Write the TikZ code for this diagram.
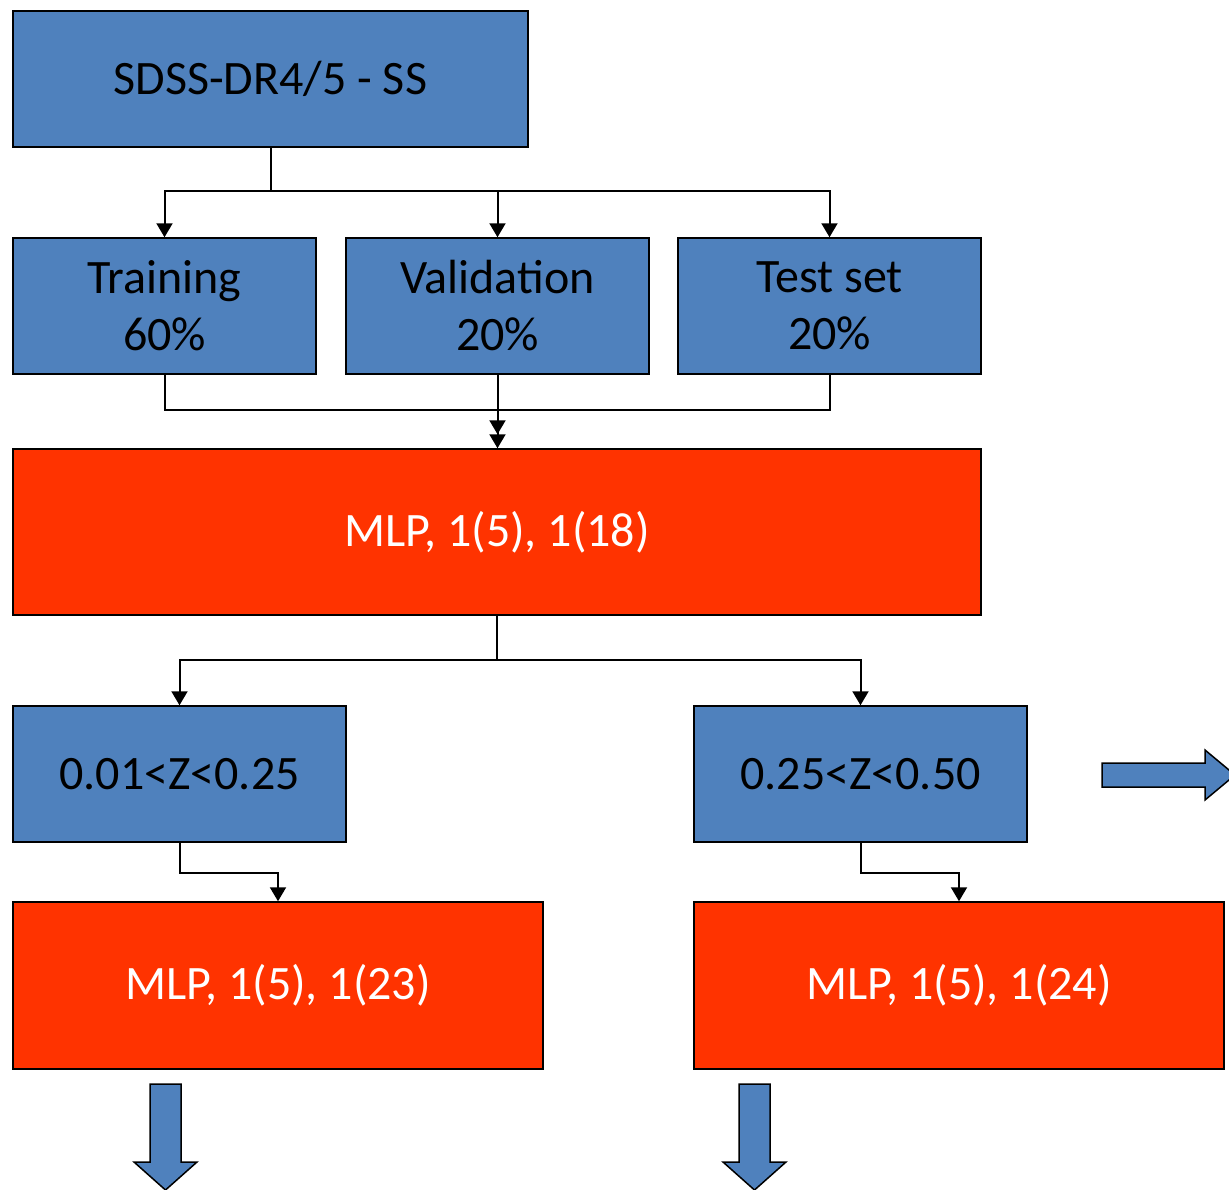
\documentclass[tikz,border=0pt]{standalone}
\usepackage{fontspec}
\setmainfont{Carlito}
\usetikzlibrary{arrows.meta}
\definecolor{boxblue}{HTML}{4F81BD}
\definecolor{boxred}{HTML}{FF3300}
\tikzset{
  bluebox/.style={draw=black, line width=1.5pt, fill=boxblue, text=black, font=\fontsize{48}{57}\selectfont, align=center, inner sep=0pt},
  redbox/.style={draw=black, line width=1.5pt, fill=boxred, text=white, font=\fontsize{48}{57}\selectfont, align=center, inner sep=0pt},
  conn/.style={line width=2pt, -{Triangle[length=14pt,width=16pt]}},
  plainconn/.style={line width=2pt},
  blockarrow/.style={draw=black, line width=1.5pt, fill=boxblue},
}
\begin{document}
\begin{tikzpicture}[x=1pt,y=-1pt]
\useasboundingbox (0,0) rectangle (1229,1189);
\clip (0,0) rectangle (1229,1189);
\node[bluebox, minimum width=515pt, minimum height=136pt] (sdss) at (270.5,79) {SDSS-DR4/5 - SS};
\node[bluebox, minimum width=303pt, minimum height=136pt] (train) at (164.5,306) {Training\\60\%};
\node[bluebox, minimum width=303pt, minimum height=136pt] (valid) at (497.5,306) {Validation\\20\%};
\node[bluebox, minimum width=303pt, minimum height=136pt] (test) at (829.5,306) {Test set\\20\%};
\node[redbox, minimum width=968pt, minimum height=166pt] (mlp) at (497,532) {MLP, 1(5), 1(18)};
\node[bluebox, minimum width=333pt, minimum height=136pt] (zlow) at (179.5,774) {0.01<Z<0.25};
\node[bluebox, minimum width=333pt, minimum height=136pt] (zhigh) at (860.5,774) {0.25<Z<0.50};
\node[redbox, minimum width=530pt, minimum height=167pt] (mlpl) at (278,985.5) {MLP, 1(5), 1(23)};
\node[redbox, minimum width=530pt, minimum height=167pt] (mlpr) at (959,985.5) {MLP, 1(5), 1(24)};

% top split
\coordinate (s1) at (270.5,191);
\draw[plainconn] (sdss.south) -- (s1);
\draw[conn] (s1) -| (train.north);
\draw[conn] (s1) -| (valid.north);
\draw[conn] (s1) -| (test.north);
% merge into MLP
\coordinate (m1) at (497.5,410);
\draw[plainconn] (train.south) |- (m1);
\draw[plainconn] (test.south) |- (m1);
\draw[line width=2pt, -{Triangle[length=14pt,width=16pt]Triangle[length=14pt,width=16pt]}] (valid.south) -- (valid.south |- mlp.north);
% MLP split
\coordinate (s2) at (497,660);
\draw[plainconn] (mlp.south) -- (s2);
\draw[conn] (s2) -| (zlow.north);
\draw[conn] (s2) -| (zhigh.north);
% to lower MLPs
\draw[conn] (zlow.south) -- ++(0,30) -| (mlpl.north);
\draw[conn] (zhigh.south) -- ++(0,30) -| (mlpr.north);
% block arrows
\draw[blockarrow] (150,1084) -- (181,1084) -- (181,1162) -- (197,1162) -- (165.5,1190) -- (134,1162) -- (150,1162) -- cycle;
\draw[blockarrow] (739,1084) -- (770,1084) -- (770,1162) -- (786,1162) -- (754.5,1190) -- (723,1162) -- (739,1162) -- cycle;
\draw[blockarrow] (1102,763) -- (1205,763) -- (1205,750) -- (1235,775) -- (1205,800) -- (1205,787) -- (1102,787) -- cycle;
\end{tikzpicture}
\end{document}
